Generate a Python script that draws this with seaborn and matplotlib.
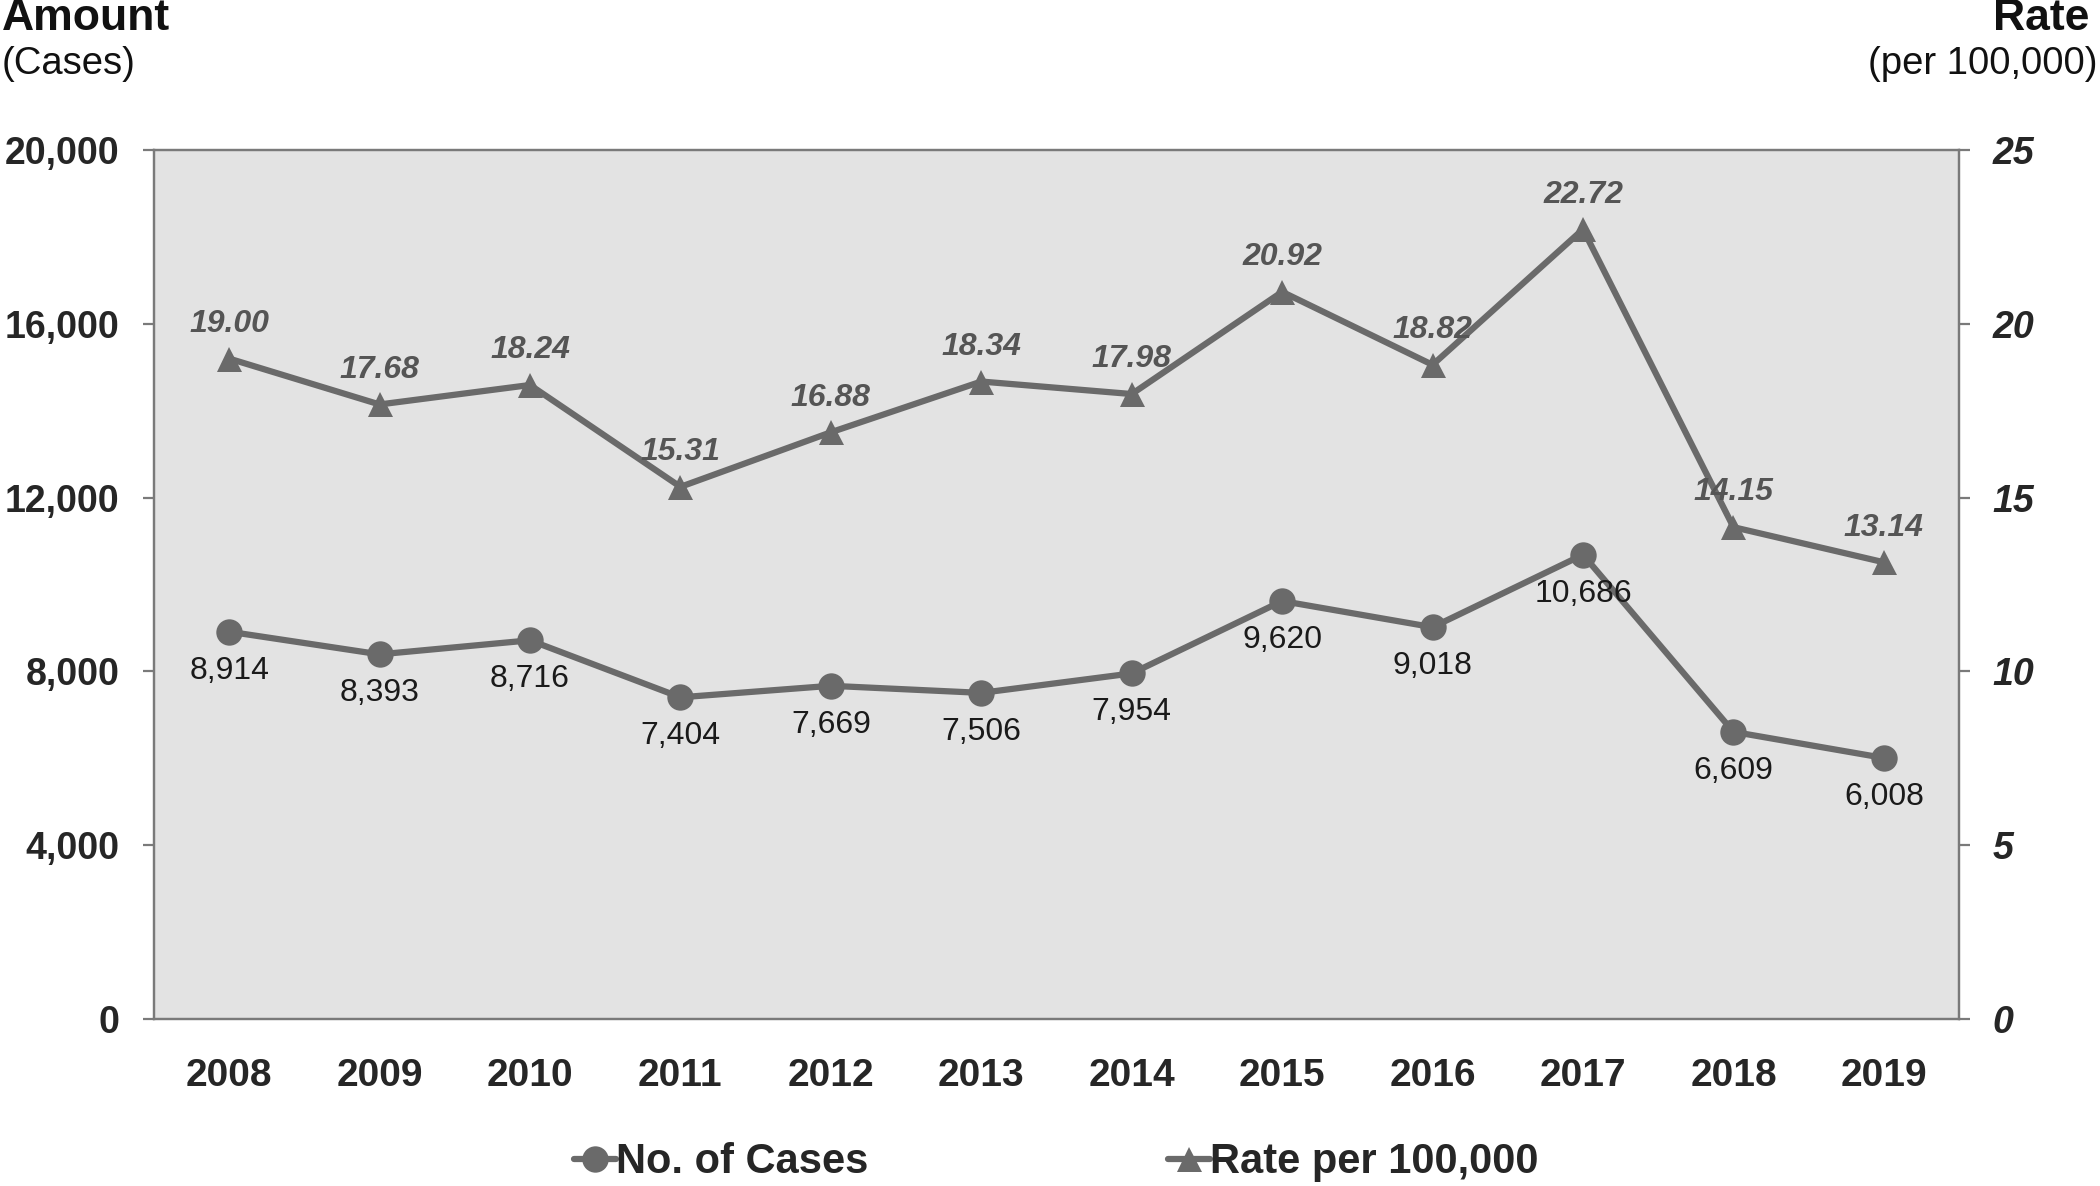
import matplotlib
matplotlib.use("Agg")
import matplotlib.pyplot as plt
import pandas as pd
import seaborn as sns
from matplotlib.lines import Line2D

years = ["2008", "2009", "2010", "2011", "2012", "2013",
         "2014", "2015", "2016", "2017", "2018", "2019"]
cases = [8914, 8393, 8716, 7404, 7669, 7506, 7954, 9620, 9018, 10686, 6609, 6008]
rates = [19.00, 17.68, 18.24, 15.31, 16.88, 18.34, 17.98, 20.92, 18.82, 22.72, 14.15, 13.14]
left_ticks = [0, 4000, 8000, 12000, 16000, 20000]
right_ticks = [0, 5, 10, 15, 20, 25]

sns.set_theme(style="white")
plt.rcParams["font.family"] = ["Liberation Sans", "DejaVu Sans"]

line_c = "#6a6a6a"
axis_c = "#7a7a7a"

df = pd.DataFrame({"pos": range(len(years)), "year": years,
                   "cases": cases, "rate": rates})

fig = plt.figure(figsize=(21, 11.86), dpi=100)
ax = fig.add_axes([0.0733, 0.1408, 0.8596, 0.7327])
ax.set_facecolor("#e3e3e3")
ax2 = ax.twinx()

sns.lineplot(data=df, x="pos", y="cases", ax=ax, color=line_c, lw=4.5,
             marker="o", markersize=19, markeredgewidth=0, legend=False)
sns.lineplot(data=df, x="pos", y="rate", ax=ax2, color=line_c, lw=4.5,
             marker="^", markersize=18, markeredgewidth=0, legend=False)

ax.set_xlim(-0.5, len(years) - 0.5)
ax.set_ylim(0, 20000)
ax2.set_ylim(0, 25)
ax.set_xticks(df["pos"], years)
ax.set_yticks(left_ticks, [f"{v:,}" for v in left_ticks])
ax2.set_yticks(right_ticks, [str(v) for v in right_ticks])
ax.set_xlabel("")
ax.set_ylabel("")
ax2.set_ylabel("")

for a in (ax, ax2):
    for s in a.spines.values():
        s.set_color(axis_c)
        s.set_linewidth(1.6)

ax.tick_params(axis="y", which="both", left=True, length=8, width=1.6,
               color=axis_c, pad=17, labelsize=27)
ax.tick_params(axis="x", bottom=False, pad=22, labelsize=28)
ax2.tick_params(axis="y", right=True, length=8, width=1.6, color=axis_c,
                pad=16, labelsize=27)
for t in ax.get_yticklabels() + ax.get_xticklabels():
    t.set_fontweight("bold")
for t in ax2.get_yticklabels():
    t.set_fontweight("bold")
    t.set_fontstyle("italic")

for x, v in zip(df["pos"], cases):
    ax.annotate(f"{v:,}", (x, v), xytext=(0, -28), textcoords="offset points",
                ha="center", va="center", fontsize=23, color="#1a1a1a")
for x, v in zip(df["pos"], rates):
    ax2.annotate(f"{v:.2f}", (x, v), xytext=(0, 25), textcoords="offset points",
                 ha="center", va="center", fontsize=23, color="#555555",
                 fontweight="bold", fontstyle="italic")

fig.text(0.001, 0.984, "Amount", ha="left", va="center", fontsize=32,
         fontweight="bold", color="#111111")
fig.text(0.001, 0.946, "(Cases)", ha="left", va="center", fontsize=27.5,
         color="#111111")
fig.text(0.995, 0.984, "Rate", ha="right", va="center", fontsize=32,
         fontweight="bold", color="#111111")
fig.text(0.999, 0.946, "(per 100,000)", ha="right", va="center", fontsize=27.5,
         color="#111111")

handles = [
    Line2D([], [], color=line_c, lw=4.5, marker="o", markersize=19,
           markeredgewidth=0),
    Line2D([], [], color=line_c, lw=4.5, marker="^", markersize=18,
           markeredgewidth=0),
]
fig.legend(handles, ["No. of Cases", "Rate per 100,000"], loc="center",
           bbox_to_anchor=(0.503, 0.02), ncol=2, frameon=False,
           handlelength=1.0, handletextpad=0.0, columnspacing=7.2,
           prop={"family": ["Liberation Sans Narrow", "Liberation Sans"],
                 "weight": "bold", "size": 30})

fig.savefig("out.png", dpi=100)
